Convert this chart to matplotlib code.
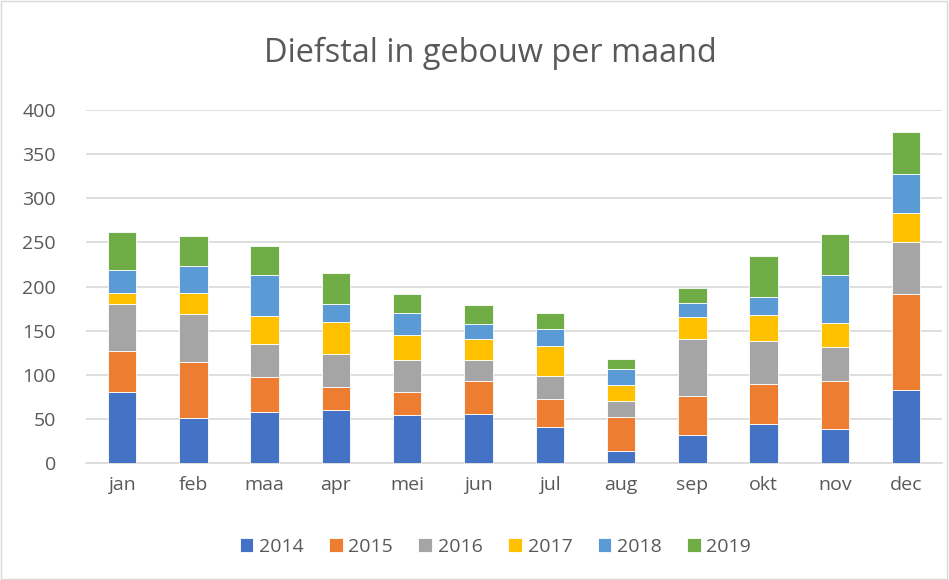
import matplotlib.pyplot as plt
import numpy as np

months = ["jan", "feb", "maa", "apr", "mei", "jun", "jul", "aug", "sep", "okt", "nov", "dec"]
years = ["2014", "2015", "2016", "2017", "2018", "2019"]

y2014 = [80, 51, 58, 60, 54, 55, 41, 14, 32, 44, 38, 83]
y2015 = [47, 64, 39, 26, 26, 38, 32, 38, 44, 46, 55, 109]
y2016 = [53, 54, 38, 38, 37, 24, 26, 18, 64, 48, 39, 58]
y2017 = [13, 24, 32, 36, 28, 23, 34, 18, 26, 30, 27, 33]
y2018 = [26, 30, 46, 20, 25, 18, 19, 18, 15, 20, 54, 45]
y2019 = [43, 34, 33, 35, 21, 21, 18, 12, 17, 47, 46, 47]

series = [y2014, y2015, y2016, y2017, y2018, y2019]
colors = ["#4472C4", "#ED7D31", "#A5A5A5", "#FFC000", "#5B9BD5", "#70AD47"]

plt.rcParams['font.family'] = ['Open Sans', 'DejaVu Sans']
text_col = "#595959"

fig = plt.figure(figsize=(9.49, 5.8), dpi=100)
ax = fig.add_axes([0.091, 0.2017, 0.9015, 0.6086])

x = np.arange(len(months))
bottom = np.zeros(len(months))
for name, vals, c in zip(years, series, colors):
    ax.bar(x, vals, width=0.4, bottom=bottom, color=c, label=name,
           edgecolor="white", linewidth=0.6, zorder=3)
    bottom += np.array(vals)

ax.set_ylim(0, 400)
ax.set_xlim(-0.5, len(months) - 0.5)
ax.set_yticks(range(0, 401, 50))
ax.set_xticks(x)
ax.set_xticklabels(months)
ax.yaxis.grid(True, color="#D9D9D9", linewidth=1.2, zorder=0)
ax.tick_params(axis="both", length=0, labelsize=14, colors=text_col)
ax.tick_params(axis="x", pad=9)
ax.tick_params(axis="y", pad=22)
for s in ["top", "right", "left"]:
    ax.spines[s].set_visible(False)
ax.spines["bottom"].set_color("#D9D9D9")
ax.spines["bottom"].set_linewidth(1.2)

fig.suptitle("Diefstal in gebouw per maand", x=0.517, y=0.936, fontsize=23.4, color=text_col)

fig.legend(loc="center", bbox_to_anchor=(0.522, 0.057), ncol=6, frameon=False,
           fontsize=14, handlelength=0.7, handleheight=0.7, handletextpad=0.3,
           columnspacing=1.3, labelcolor=text_col)

fig.patches.append(plt.Rectangle((0.001, 0.001), 0.997, 0.997, transform=fig.transFigure,
                                 fill=False, edgecolor="#D9D9D9", linewidth=1))

fig.savefig("out.png", dpi=100)
